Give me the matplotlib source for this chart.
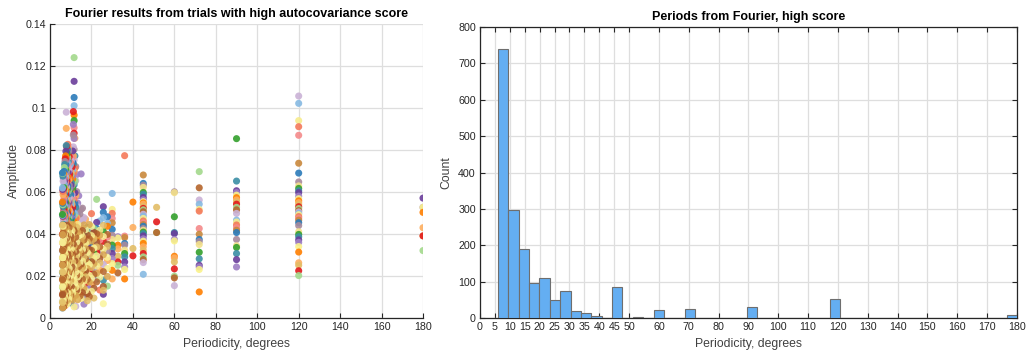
import numpy as np
import matplotlib
matplotlib.use("Agg")
import matplotlib.pyplot as plt
from matplotlib.ticker import FuncFormatter

plt.rcParams["font.family"] = ["Liberation Sans", "DejaVu Sans"]

INK = "#262626"
GRID = "#dedede"

# Fourier amplitudes at the coarse periodicities (360/k degrees)
amp_180 = [0.0571, 0.0527, 0.0527, 0.0503, 0.0430, 0.0391, 0.0391, 0.0321]
amp_120 = [0.1057, 0.1022, 0.0940, 0.0911, 0.0870, 0.0737, 0.0690, 0.0648, 0.0629,
           0.0617, 0.0606, 0.0597, 0.0580, 0.0568, 0.0558, 0.0549, 0.0540, 0.0530,
           0.0521, 0.0511, 0.0505, 0.0498, 0.0492, 0.0483, 0.0475, 0.0466, 0.0454,
           0.0440, 0.0411, 0.0398, 0.0387, 0.0372, 0.0360, 0.0340, 0.0314, 0.0263,
           0.0251, 0.0225, 0.0202]
amp_90 = [0.0854, 0.0652, 0.0606, 0.0597, 0.0585, 0.0573, 0.0562, 0.0552, 0.0542,
          0.0527, 0.0515, 0.0498, 0.0466, 0.0457, 0.0443, 0.0430, 0.0418, 0.0407,
          0.0374, 0.0344, 0.0336, 0.0307, 0.0278, 0.0243]
amp_72 = [0.0697, 0.0620, 0.0562, 0.0542, 0.0517, 0.0509, 0.0426, 0.0399, 0.0374,
          0.0364, 0.0350, 0.0313, 0.0282, 0.0251, 0.0243, 0.0231, 0.0124]
amp_60 = [0.0601, 0.0597, 0.0482, 0.0407, 0.0402, 0.0374, 0.0367, 0.0294, 0.0286,
          0.0267, 0.0234, 0.0199, 0.0191, 0.0154]
amp_51 = [0.0527, 0.0458, 0.0407, 0.0407]
amp_45 = [0.0681, 0.0641, 0.0632, 0.0622, 0.0598, 0.0589, 0.0574, 0.0563, 0.0554,
          0.0548, 0.0542, 0.0531, 0.0522, 0.0515, 0.0506, 0.0494, 0.0485, 0.0474,
          0.0462, 0.0453, 0.0445, 0.0437, 0.0426, 0.0418, 0.0409, 0.0402, 0.0391,
          0.0377, 0.0366, 0.0355, 0.0339, 0.0322, 0.0307, 0.0291, 0.0278, 0.0264,
          0.0208]
amp_40 = [0.0552, 0.0431, 0.0331, 0.0296]
amp_36 = [0.0773, 0.0390, 0.0383, 0.0355, 0.0347, 0.0323, 0.0307, 0.0291, 0.0267,
          0.0243, 0.0231, 0.0186]
amp_33 = [0.0387, 0.0381, 0.0347, 0.0329, 0.0294, 0.0267, 0.0251, 0.0215]
amp_30 = [0.0593, 0.0517, 0.0498, 0.0474, 0.0453, 0.0422, 0.0394, 0.0374, 0.0347,
          0.0331, 0.0307, 0.0283, 0.0259, 0.0227, 0.0186]
coarse_periods = [180, 120, 90, 72, 60, 360 / 7, 45, 40, 36, 360 / 11, 30]
coarse_amps = [amp_180, amp_120, amp_90, amp_72, amp_60, amp_51, amp_45, amp_40,
               amp_36, amp_33, amp_30]

# dense low-period cloud: harmonic k (period 360/k) and amplitudes found there
cloud_harmonic = list(range(13, 61))
cloud_amp = [
    [0.0482, 0.0451, 0.0437, 0.0398, 0.0386, 0.0352, 0.0341, 0.0318, 0.0289, 0.0274, 0.0236, 0.0198, 0.0152],
    [0.0530, 0.0503, 0.0478, 0.0441, 0.0412, 0.0388, 0.0365, 0.0327, 0.0301, 0.0255, 0.0221, 0.0180, 0.0150, 0.0132, 0.0113, 0.0068],
    [0.0462, 0.0418, 0.0394, 0.0371, 0.0339, 0.0307, 0.0283, 0.0262, 0.0228, 0.0194, 0.0133],
    [0.0565, 0.0455, 0.0426, 0.0401, 0.0383, 0.0362, 0.0338, 0.0315, 0.0296, 0.0271, 0.0247, 0.0213, 0.0186, 0.0172],
    [0.0425, 0.0408, 0.0378, 0.0356, 0.0333, 0.0308, 0.0284, 0.0259, 0.0236, 0.0208, 0.0179, 0.0142, 0.0095],
    [0.0497, 0.0436, 0.0412, 0.0392, 0.0367, 0.0341, 0.0322, 0.0297, 0.0268, 0.0241, 0.0219, 0.0188, 0.0161, 0.0127],
    [0.0445, 0.0402, 0.0377, 0.0349, 0.0326, 0.0301, 0.0277, 0.0254, 0.0229, 0.0203, 0.0171, 0.0138, 0.0102],
    [0.0431, 0.0395, 0.0361, 0.0338, 0.0312, 0.0286, 0.0262, 0.0235, 0.0211, 0.0184, 0.0151, 0.0117, 0.0082],
    [0.0470, 0.0421, 0.0384, 0.0356, 0.0329, 0.0304, 0.0281, 0.0248, 0.0223, 0.0196, 0.0168, 0.0131, 0.0098],
    [0.0478, 0.0443, 0.0405, 0.0372, 0.0345, 0.0318, 0.0291, 0.0266, 0.0239, 0.0207, 0.0176, 0.0143, 0.0066],
    [0.0523, 0.0462, 0.0416, 0.0387, 0.0352, 0.0326, 0.0299, 0.0271, 0.0243, 0.0214, 0.0185, 0.0152, 0.0121],
    [0.0686, 0.0518, 0.0471, 0.0433, 0.0398, 0.0364, 0.0337, 0.0309, 0.0282, 0.0256, 0.0225, 0.0193, 0.0159, 0.0124, 0.0093],
    [0.0495, 0.0448, 0.0412, 0.0379, 0.0347, 0.0321, 0.0294, 0.0265, 0.0237, 0.0206, 0.0173, 0.0139, 0.0105],
    [0.0582, 0.0511, 0.0466, 0.0425, 0.0391, 0.0359, 0.0331, 0.0302, 0.0274, 0.0245, 0.0216, 0.0182, 0.0147, 0.0112],
    [0.0547, 0.0489, 0.0446, 0.0408, 0.0373, 0.0342, 0.0313, 0.0286, 0.0258, 0.0227, 0.0195, 0.0161, 0.0128, 0.0087],
    [0.0683, 0.0602, 0.0534, 0.0478, 0.0432, 0.0395, 0.0361, 0.0330, 0.0298, 0.0269, 0.0238, 0.0204, 0.0168, 0.0133, 0.0096],
    [0.0721, 0.0654, 0.0583, 0.0527, 0.0472, 0.0421, 0.0385, 0.0348, 0.0316, 0.0284, 0.0251, 0.0219, 0.0183, 0.0146, 0.0108, 0.0055],
    [0.0856, 0.0772, 0.0714, 0.0652, 0.0596, 0.0545, 0.0496, 0.0452, 0.0409, 0.0371, 0.0337, 0.0303, 0.0272, 0.0239, 0.0205, 0.0167, 0.0128],
    [0.1240, 0.1127, 0.1050, 0.1011, 0.0966, 0.0940, 0.0906, 0.0880, 0.0855, 0.0803, 0.0752, 0.0697, 0.0634, 0.0563, 0.0488, 0.0413, 0.0342, 0.0271, 0.0192, 0.0113, 0.0053],
    [0.0983, 0.0922, 0.0871, 0.0815, 0.0772, 0.0734, 0.0688, 0.0642, 0.0593, 0.0546, 0.0503, 0.0461, 0.0423, 0.0388, 0.0352, 0.0318, 0.0285, 0.0249, 0.0213, 0.0177, 0.0139, 0.0101],
    [0.0795, 0.0741, 0.0705, 0.0662, 0.0617, 0.0571, 0.0526, 0.0484, 0.0445, 0.0407, 0.0372, 0.0336, 0.0301, 0.0268, 0.0231, 0.0196, 0.0158, 0.0121, 0.0085],
    [0.0762, 0.0718, 0.0676, 0.0631, 0.0588, 0.0541, 0.0497, 0.0455, 0.0416, 0.0381, 0.0345, 0.0312, 0.0278, 0.0243, 0.0208, 0.0172, 0.0134, 0.0097],
    [0.0748, 0.0692, 0.0645, 0.0602, 0.0558, 0.0514, 0.0472, 0.0434, 0.0398, 0.0363, 0.0329, 0.0294, 0.0259, 0.0222, 0.0186, 0.0149, 0.0111],
    [0.0736, 0.0681, 0.0633, 0.0587, 0.0542, 0.0501, 0.0461, 0.0425, 0.0389, 0.0354, 0.0320, 0.0286, 0.0251, 0.0216, 0.0179, 0.0143, 0.0106, 0.0072],
    [0.0728, 0.0665, 0.0612, 0.0566, 0.0523, 0.0482, 0.0444, 0.0407, 0.0372, 0.0338, 0.0305, 0.0271, 0.0236, 0.0201, 0.0165, 0.0128, 0.0091],
    [0.0742, 0.0685, 0.0617, 0.0552, 0.0508, 0.0449, 0.0421, 0.0376, 0.0331, 0.0303, 0.0262, 0.0228, 0.0187, 0.0151, 0.0104],
    [0.0768, 0.0701, 0.0633, 0.0574, 0.0515, 0.0463, 0.0430, 0.0389, 0.0347, 0.0312, 0.0279, 0.0236, 0.0201, 0.0164, 0.0122, 0.0079],
    [0.0795, 0.0712, 0.0658, 0.0589, 0.0537, 0.0482, 0.0441, 0.0398, 0.0356, 0.0325, 0.0287, 0.0248, 0.0213, 0.0172, 0.0138, 0.0091],
    [0.0811, 0.0746, 0.0671, 0.0604, 0.0549, 0.0493, 0.0455, 0.0408, 0.0367, 0.0334, 0.0296, 0.0259, 0.0221, 0.0183, 0.0146, 0.0102],
    [0.0827, 0.0763, 0.0692, 0.0628, 0.0561, 0.0512, 0.0467, 0.0419, 0.0382, 0.0341, 0.0305, 0.0268, 0.0232, 0.0194, 0.0157, 0.0118, 0.0074],
    [0.0803, 0.0738, 0.0674, 0.0613, 0.0556, 0.0501, 0.0459, 0.0412, 0.0373, 0.0337, 0.0299, 0.0262, 0.0224, 0.0188, 0.0149, 0.0112, 0.0068],
    [0.0782, 0.0721, 0.0652, 0.0597, 0.0538, 0.0487, 0.0442, 0.0401, 0.0362, 0.0328, 0.0291, 0.0254, 0.0217, 0.0179, 0.0141, 0.0097],
    [0.0816, 0.0755, 0.0689, 0.0624, 0.0566, 0.0509, 0.0462, 0.0418, 0.0379, 0.0343, 0.0307, 0.0271, 0.0235, 0.0198, 0.0161, 0.0123, 0.0082],
    [0.0980, 0.0903, 0.0821, 0.0764, 0.0703, 0.0641, 0.0583, 0.0528, 0.0476, 0.0431, 0.0392, 0.0354, 0.0318, 0.0283, 0.0247, 0.0211, 0.0172, 0.0134, 0.0093],
    [0.0794, 0.0729, 0.0668, 0.0606, 0.0548, 0.0497, 0.0451, 0.0409, 0.0371, 0.0334, 0.0298, 0.0263, 0.0227, 0.0191, 0.0153, 0.0115, 0.0071],
    [0.0772, 0.0706, 0.0645, 0.0588, 0.0533, 0.0484, 0.0438, 0.0397, 0.0358, 0.0322, 0.0287, 0.0251, 0.0216, 0.0180, 0.0143, 0.0104, 0.0062],
    [0.0758, 0.0694, 0.0631, 0.0571, 0.0519, 0.0472, 0.0429, 0.0388, 0.0349, 0.0314, 0.0278, 0.0243, 0.0207, 0.0171, 0.0134, 0.0095],
    [0.0745, 0.0677, 0.0618, 0.0560, 0.0508, 0.0461, 0.0418, 0.0379, 0.0342, 0.0306, 0.0271, 0.0236, 0.0199, 0.0163, 0.0126, 0.0087, 0.0058],
    [0.0731, 0.0662, 0.0603, 0.0548, 0.0497, 0.0452, 0.0409, 0.0370, 0.0333, 0.0298, 0.0263, 0.0228, 0.0192, 0.0156, 0.0119, 0.0081],
    [0.0716, 0.0651, 0.0589, 0.0536, 0.0486, 0.0441, 0.0399, 0.0361, 0.0325, 0.0291, 0.0256, 0.0221, 0.0186, 0.0149, 0.0112, 0.0073],
    [0.0698, 0.0637, 0.0578, 0.0524, 0.0476, 0.0432, 0.0391, 0.0353, 0.0317, 0.0283, 0.0249, 0.0214, 0.0179, 0.0142, 0.0106, 0.0066],
    [0.0684, 0.0621, 0.0565, 0.0513, 0.0465, 0.0422, 0.0382, 0.0345, 0.0310, 0.0276, 0.0242, 0.0207, 0.0172, 0.0136, 0.0099, 0.0061],
    [0.0672, 0.0609, 0.0553, 0.0502, 0.0455, 0.0413, 0.0374, 0.0338, 0.0303, 0.0269, 0.0235, 0.0201, 0.0166, 0.0130, 0.0093, 0.0057],
    [0.0665, 0.0598, 0.0541, 0.0491, 0.0446, 0.0405, 0.0366, 0.0330, 0.0296, 0.0263, 0.0229, 0.0195, 0.0160, 0.0124, 0.0088, 0.0054],
    [0.0652, 0.0587, 0.0531, 0.0482, 0.0437, 0.0397, 0.0359, 0.0323, 0.0289, 0.0256, 0.0223, 0.0189, 0.0154, 0.0119, 0.0083, 0.0052],
    [0.0676, 0.0603, 0.0539, 0.0485, 0.0438, 0.0396, 0.0357, 0.0321, 0.0287, 0.0253, 0.0219, 0.0185, 0.0150, 0.0114, 0.0079, 0.0050],
    [0.0688, 0.0612, 0.0546, 0.0489, 0.0440, 0.0397, 0.0358, 0.0321, 0.0286, 0.0252, 0.0218, 0.0183, 0.0148, 0.0112, 0.0076, 0.0048],
    [0.0691, 0.0619, 0.0552, 0.0493, 0.0443, 0.0399, 0.0359, 0.0322, 0.0287, 0.0252, 0.0217, 0.0182, 0.0146, 0.0110, 0.0074, 0.0047],
]

# histogram of all detected periods, 50 bins between 6 and 180 degrees
hist_edges = np.linspace(6, 180, 51)
hist_counts = [740, 296, 189, 95, 109, 49, 73, 19, 14, 5,
               0, 85, 0, 4, 0, 22, 0, 0, 25, 0,
               0, 0, 0, 0, 30, 0, 0, 0, 0, 0,
               0, 0, 51, 0, 0, 0, 0, 0, 0, 0,
               0, 0, 0, 0, 0, 0, 0, 0, 0, 8]
hist_xticks = [0, 5, 10, 15, 20, 25, 30, 35, 40, 45, 50, 60, 70, 80, 90, 100,
               110, 120, 130, 140, 150, 160, 170, 180]

strong = ["#6a3d9a", "#ff7f00", "#e31a1c", "#cab2d6", "#f4795a", "#2b7bba",
          "#33a02c", "#9e7fc4", "#fdae5f", "#a3d98c", "#86b9e2", "#f48a8a",
          "#a88a9c", "#3b8ea5"]
warm = ["#faf28a", "#e3bd66", "#b5652b", "#f7ec8c", "#c9883c", "#f3e08a",
        "#d9a54e", "#faf49a", "#a9582a", "#eed27a"]
palette = strong + warm[:6]


def style_axes(ax):
    ax.set_axisbelow(True)
    ax.grid(True, color=GRID, linewidth=0.9)
    ax.tick_params(direction="in", length=3.5, width=0.8, colors=INK,
                   labelsize=7.7, pad=3)
    for s in ax.spines.values():
        s.set_color(INK)
        s.set_linewidth(0.9)


fig = plt.figure(figsize=(10.34, 3.54), dpi=100)

# left: amplitude vs periodicity scatter
ax = fig.add_axes([0.0484, 0.1017, 0.3607, 0.8305])
style_axes(ax)
ax.spines["top"].set_visible(False)
ax.spines["right"].set_visible(False)

xs, ys, cs = [], [], []
for j, (p, amps) in enumerate(zip(coarse_periods, coarse_amps)):
    for i, a in enumerate(amps):
        xs.append(p)
        ys.append(a)
        cs.append(palette[(i * 7 + j * 3) % len(palette)])
ax.scatter(xs, ys, s=26, c=cs, alpha=0.9, linewidths=0, zorder=3)

# the later trials (pale yellow / tan / brown) sit on top of the cloud
low_x, low_y, low_c = [], [], []
top_x, top_y, top_c = [], [], []
n = 0
for k, amps in zip(cloud_harmonic, cloud_amp):
    for a in amps:
        n += 1
        if a < 0.045 and n % 5 in (1, 2, 4):
            top_x.append(360 / k)
            top_y.append(a)
            top_c.append(warm[(n * 3) % len(warm)])
        else:
            low_x.append(360 / k)
            low_y.append(a)
            low_c.append(strong[(n * 5) % len(strong)])
ax.scatter(low_x, low_y, s=26, c=low_c, alpha=0.9, linewidths=0, zorder=3)
ax.scatter(top_x, top_y, s=26, c=top_c, alpha=0.85, linewidths=0, zorder=4)

ax.set_xlim(0, 180)
ax.set_ylim(0, 0.14)
ax.set_xticks(np.arange(0, 181, 20))
ax.set_yticks(np.arange(0, 0.141, 0.02))
ax.yaxis.set_major_formatter(FuncFormatter(lambda v, _: f"{v:g}"))
ax.set_xlabel("Periodicity, degrees", fontsize=8.8, color="#404040", labelpad=4)
ax.set_ylabel("Amplitude", fontsize=8.8, color="#404040", labelpad=4)
ax.set_title("Fourier results from trials with high autocovariance score",
             fontsize=9, fontweight="bold", pad=5)

# right: histogram of periods
ax2 = fig.add_axes([0.4642, 0.1017, 0.5193, 0.822])
style_axes(ax2)
ax2.tick_params(top=True, right=True)
ax2.bar(hist_edges[:-1], hist_counts, width=np.diff(hist_edges), align="edge",
        color="#64aef2", edgecolor="#6e6e6e", linewidth=0.8, zorder=3)
ax2.set_xlim(0, 180)
ax2.set_ylim(0, 800)
ax2.set_xticks(hist_xticks)
ax2.set_yticks(np.arange(0, 801, 100))
ax2.set_xlabel("Periodicity, degrees", fontsize=8.8, color="#404040", labelpad=4)
ax2.set_ylabel("Count", fontsize=8.8, color="#404040", labelpad=4)
ax2.set_title("Periods from Fourier, high score", fontsize=9,
              fontweight="bold", pad=5)

fig.savefig("out.png", dpi=100)
